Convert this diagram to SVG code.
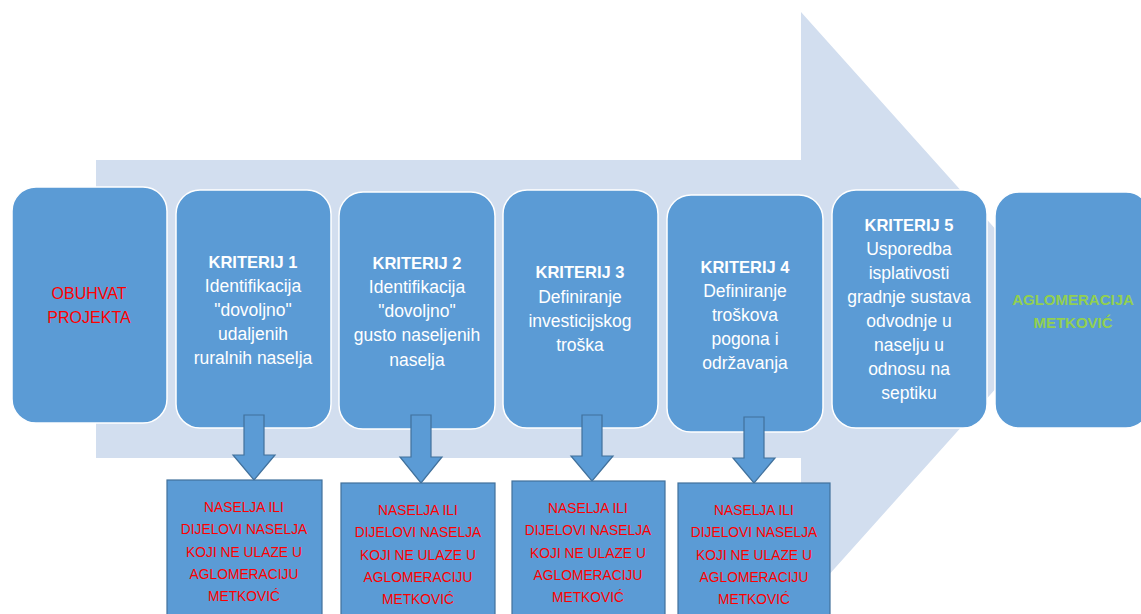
<svg xmlns="http://www.w3.org/2000/svg" width="1141" height="614" viewBox="0 0 1141 614">
<style>
.bg{fill:#D2DEEF}
.box{fill:#5B9BD5;stroke:#FFFFFF;stroke-width:1.5}
.out{fill:#5B9BD5;stroke:#41719C;stroke-width:1.2}
.dn{fill:#5B9BD5;stroke:#41719C;stroke-width:1.2}
text{font-family:"Liberation Sans",Arial,sans-serif;text-anchor:middle}
.w{fill:#FFFFFF;font-size:17.5px}
.wb{fill:#FFFFFF;font-size:16.5px;font-weight:bold}
.red{fill:#FF0000;font-size:16px}
.rs{fill:#FF0000;font-size:13.8px}
.grn{fill:#92D050;font-size:15px;font-weight:bold}
</style>
<rect width="1141" height="614" fill="#FFFFFF"/>
<g id="big-arrow">
<polygon class="bg" points="96,160 801,160 801,12 1067,309 801,606 801,458 96,458"/>
</g>
<g id="obuhvat">
<rect class="box" x="12" y="187" width="155" height="236" rx="24"/>
<text class="red" x="89" y="299">OBUHVAT</text>
<text class="red" x="89" y="323">PROJEKTA</text>
</g>
<g id="kriterij1">
<rect class="box" x="176" y="190" width="155" height="238" rx="24"/>
<text class="wb" x="253" y="268">KRITERIJ 1</text>
<text class="w" x="253" y="292">Identifikacija</text>
<text class="w" x="253" y="316">"dovoljno"</text>
<text class="w" x="253" y="340">udaljenih</text>
<text class="w" x="253" y="364">ruralnih naselja</text>
</g>
<g id="kriterij2">
<rect class="box" x="339" y="192" width="156" height="237" rx="24"/>
<text class="wb" x="417" y="269">KRITERIJ 2</text>
<text class="w" x="417" y="293">Identifikacija</text>
<text class="w" x="417" y="317">"dovoljno"</text>
<text class="w" x="417" y="341">gusto naseljenih</text>
<text class="w" x="417" y="366">naselja</text>
</g>
<g id="kriterij3">
<rect class="box" x="503" y="190" width="155" height="238" rx="24"/>
<text class="wb" x="580" y="278">KRITERIJ 3</text>
<text class="w" x="580" y="303">Definiranje</text>
<text class="w" x="580" y="327">investicijskog</text>
<text class="w" x="580" y="351">troška</text>
</g>
<g id="kriterij4">
<rect class="box" x="667" y="195" width="156" height="237" rx="24"/>
<text class="wb" x="745" y="273">KRITERIJ 4</text>
<text class="w" x="745" y="297">Definiranje</text>
<text class="w" x="745" y="321">troškova</text>
<text class="w" x="745" y="345">pogona i</text>
<text class="w" x="745" y="369">održavanja</text>
</g>
<g id="kriterij5">
<rect class="box" x="832" y="190" width="155" height="238" rx="24"/>
<text class="wb" x="909" y="231">KRITERIJ 5</text>
<text class="w" x="909" y="255">Usporedba</text>
<text class="w" x="909" y="279">isplativosti</text>
<text class="w" x="909" y="303">gradnje sustava</text>
<text class="w" x="909" y="327">odvodnje u</text>
<text class="w" x="909" y="351">naselju u</text>
<text class="w" x="909" y="375">odnosu na</text>
<text class="w" x="909" y="399">septiku</text>
</g>
<g id="aglomeracija">
<rect class="box" x="995" y="192" width="155" height="236" rx="24"/>
<text class="grn" x="1073" y="305">AGLOMERACIJA</text>
<text class="grn" x="1073" y="328">METKOVIĆ</text>
</g>
<g id="connectors">
<polygon class="dn" points="244,415 264,415 264,455 275,455 254,480 233,455 244,455"/>
<polygon class="dn" points="411,415 431,415 431,457 442,457 421,483 400,457 411,457"/>
<polygon class="dn" points="582,415 602,415 602,456 613,456 592,481 571,456 582,456"/>
<polygon class="dn" points="744,417 764,417 764,458 775,458 754,483 733,458 744,458"/>
</g>
<g id="out1">
<rect class="out" x="167" y="480" width="155" height="140"/>
<text class="rs" x="244" y="512">NASELJA ILI</text>
<text class="rs" x="244" y="534">DIJELOVI NASELJA</text>
<text class="rs" x="244" y="557">KOJI NE ULAZE U</text>
<text class="rs" x="244" y="579">AGLOMERACIJU</text>
<text class="rs" x="244" y="601">METKOVIĆ</text>
</g>
<g id="out2">
<rect class="out" x="341" y="483" width="154" height="140"/>
<text class="rs" x="418" y="515">NASELJA ILI</text>
<text class="rs" x="418" y="537">DIJELOVI NASELJA</text>
<text class="rs" x="418" y="560">KOJI NE ULAZE U</text>
<text class="rs" x="418" y="582">AGLOMERACIJU</text>
<text class="rs" x="418" y="604">METKOVIĆ</text>
</g>
<g id="out3">
<rect class="out" x="512" y="481" width="153" height="140"/>
<text class="rs" x="588" y="513">NASELJA ILI</text>
<text class="rs" x="588" y="535">DIJELOVI NASELJA</text>
<text class="rs" x="588" y="558">KOJI NE ULAZE U</text>
<text class="rs" x="588" y="580">AGLOMERACIJU</text>
<text class="rs" x="588" y="602">METKOVIĆ</text>
</g>
<g id="out4">
<rect class="out" x="678" y="483" width="152" height="140"/>
<text class="rs" x="754" y="515">NASELJA ILI</text>
<text class="rs" x="754" y="537">DIJELOVI NASELJA</text>
<text class="rs" x="754" y="560">KOJI NE ULAZE U</text>
<text class="rs" x="754" y="582">AGLOMERACIJU</text>
<text class="rs" x="754" y="604">METKOVIĆ</text>
</g>
</svg>
